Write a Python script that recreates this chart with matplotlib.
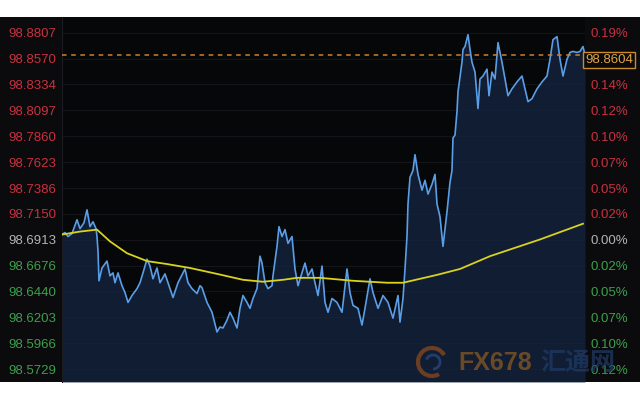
import matplotlib.pyplot as plt
from matplotlib.patches import Arc

# --- data (time offset, price) ---
t = [0, 3, 6, 10, 15, 18, 22, 25, 28, 31, 34, 35, 36, 37, 40, 45, 48, 51, 53, 56,
     60, 63, 66, 70, 75, 78, 81, 85, 88, 91, 95, 98, 103, 108, 111, 116, 123, 126,
     130, 135, 138, 140, 145, 150, 155, 158, 161, 165, 168, 171, 175, 178, 181, 185,
     188, 191, 195, 198, 200, 203, 206, 210, 211, 215, 217, 220, 223, 226, 230, 233,
     236, 240, 243, 246, 250, 253, 256, 260, 263, 266, 270, 275, 280, 285, 288, 291,
     296, 300, 303, 308, 311, 316, 321, 326, 331, 336, 338, 341, 343, 345, 346, 348,
     351, 353, 356, 360, 363, 366, 370, 373, 375, 378, 381, 385, 388, 390, 391, 393,
     395, 396, 400, 401, 403, 406, 408, 410, 413, 416, 418, 421, 425, 427, 430, 433,
     436, 440, 443, 446, 450, 455, 460, 463, 466, 470, 475, 480, 485, 488, 491, 495,
     498, 501, 505, 508, 511, 515, 518, 521, 523]
price = [98.6961, 98.6979, 98.6943, 98.6970, 98.7096, 98.7015, 98.7069, 98.7187,
         98.7033, 98.7078, 98.7015, 98.6943, 98.6808, 98.6538, 98.6655, 98.6718,
         98.6583, 98.6610, 98.6520, 98.6610, 98.6493, 98.6430, 98.6340, 98.6403,
         98.6466, 98.6520, 98.6610, 98.6736, 98.6673, 98.6556, 98.6655, 98.6520,
         98.6601, 98.6466, 98.6385, 98.6520, 98.6646, 98.6520, 98.6466, 98.6421,
         98.6493, 98.6475, 98.6340, 98.6250, 98.6070, 98.6115, 98.6106, 98.6178,
         98.6250, 98.6196, 98.6106, 98.6286, 98.6403, 98.6340, 98.6286, 98.6376,
         98.6466, 98.6763, 98.6700, 98.6520, 98.6466, 98.6493, 98.6583, 98.6853,
         98.7033, 98.6943, 98.7006, 98.6880, 98.6943, 98.6646, 98.6493, 98.6610,
         98.6700, 98.6583, 98.6646, 98.6520, 98.6403, 98.6673, 98.6340, 98.6250,
         98.6376, 98.6340, 98.6250, 98.6646, 98.6430, 98.6313, 98.6286, 98.6133,
         98.6286, 98.6556, 98.6430, 98.6286, 98.6403, 98.6340, 98.6196, 98.6403,
         98.6160, 98.6376, 98.6646, 98.6943, 98.7241, 98.7484, 98.7547, 98.7691,
         98.7511, 98.7367, 98.7457, 98.7331, 98.7421, 98.7511, 98.7241, 98.7123,
         98.6853, 98.7169, 98.7439, 98.7547, 98.7844, 98.7871, 98.8087, 98.8267,
         98.8537, 98.8654, 98.8681, 98.8789, 98.8654, 98.8537, 98.8447, 98.8114,
         98.8384, 98.8411, 98.8474, 98.8231, 98.8447, 98.8384, 98.8717, 98.8537,
         98.8384, 98.8231, 98.8294, 98.8357, 98.8411, 98.8294, 98.8177, 98.8204,
         98.8294, 98.8357, 98.8411, 98.8564, 98.8744, 98.8771, 98.8564, 98.8411,
         98.8564, 98.8627, 98.8636, 98.8627, 98.8636, 98.8681, 98.8604]

ma_t = [0, 18, 35, 48, 65, 85, 105, 128, 155, 181, 201, 221, 235, 258, 291, 325,
        341, 358, 375, 398, 428, 478, 521]
ma = [98.6961, 98.6988, 98.7006, 98.6898, 98.6790, 98.6718, 98.6691, 98.6655,
      98.6601, 98.6547, 98.6529, 98.6547, 98.6565, 98.6565, 98.6538, 98.6520,
      98.6520, 98.6556, 98.6592, 98.6646, 98.6763, 98.6916, 98.7060]

base = 98.6913
last = 98.8604
ticks = [98.8807, 98.8570, 98.8334, 98.8097, 98.7860, 98.7623, 98.7386,
         98.7150, 98.6913, 98.6676, 98.6440, 98.6203, 98.5966, 98.5729]
pct_labels = ['0.19%', '0.17%', '0.14%', '0.12%', '0.10%', '0.07%', '0.05%',
              '0.02%', '0.00%', '0.02%', '0.05%', '0.07%', '0.10%', '0.12%']

RED = '#c9303f'
GREEN = '#3c9f4c'
GREY = '#b4b4b4'


def tick_color(v):
    if v > base + 1e-6:
        return RED
    if v < base - 1e-6:
        return GREEN
    return GREY


fig = plt.figure(figsize=(6.4, 4.0), dpi=100, facecolor='white')

# black band behind everything
band = fig.add_axes([0, 18 / 400, 1, 365 / 400])
band.set_facecolor('#0b0b0d')
band.set_xticks([])
band.set_yticks([])
for s in band.spines.values():
    s.set_visible(False)

ax = fig.add_axes([62 / 640, 18 / 400, 523 / 640, 365 / 400])
ax.set_facecolor('#060709')
ylo, yhi = 98.5612, 98.8951
ax.set_ylim(ylo, yhi)
ax.set_xlim(0, 523)

for v in ticks:
    ax.axhline(v, color='#141519', lw=0.8, zorder=0)

ax.fill_between(t, price, ylo, color='#15233d', alpha=0.8, lw=0, zorder=1)
ax.plot(t, price, color='#5b9ee8', lw=1.2, zorder=3)
ax.plot(ma_t, ma, color='#d9d21e', lw=1.3, zorder=4)
ax.axhline(last, color='#cf8030', lw=1.1, ls=(0, (3, 3)), zorder=5)

ax.set_yticks(ticks)
ax.set_yticklabels([f'{v:.4f}' for v in ticks])
ax.tick_params(axis='y', length=0, pad=4, labelsize=9.5)
ax.set_xticks([])
for lab, v in zip(ax.get_yticklabels(), ticks):
    lab.set_family('Liberation Sans')
    lab.set_color(tick_color(v))

ax2 = ax.twinx()
ax2.set_ylim(ylo, yhi)
ax2.set_yticks(ticks)
ax2.set_yticklabels(pct_labels)
ax2.tick_params(axis='y', length=0, pad=4, labelsize=9.5)
for lab, v in zip(ax2.get_yticklabels(), ticks):
    lab.set_family('Liberation Sans')
    lab.set_color(tick_color(v))

for a in (ax, ax2):
    for s in a.spines.values():
        s.set_visible(False)
ax.spines['left'].set_visible(True)
ax.spines['left'].set_color('#1c1d22')

# last price box
ax2.text(1.0, last + 0.0012, '98.8604', transform=ax2.get_yaxis_transform(),
         ha='left', va='top', fontsize=9.5, family='Liberation Sans', color='#e0a444',
         bbox=dict(boxstyle='square,pad=0.15', fc='#0b0b0d', ec='#c98a2c', lw=1.0),
         zorder=10)

# watermark on an overlay axes (figure pixel coordinates)
wm = fig.add_axes([0, 0, 1, 1])
wm.set_xlim(0, 640)
wm.set_ylim(400, 0)
wm.axis('off')
wm.add_patch(Arc((432, 362), 28, 28, theta1=60, theta2=330,
                 color='#8a4a20', lw=3, alpha=0.75))
wm.add_patch(Arc((433, 362), 14, 14, theta1=200, theta2=90,
                 color='#2a4a80', lw=2, alpha=0.75))
wm.text(458, 363, 'FX678', ha='left', va='center', fontsize=18, fontweight='bold',
        color='#7a5226', alpha=0.85, family='Liberation Sans')
wm.text(540, 363, '汇通网', ha='left', va='center', fontsize=18, fontweight='bold',
        color='#1f3c6c', alpha=0.7, family=['Noto Sans CJK SC', 'DejaVu Sans'])

fig.savefig('out.png', dpi=100, facecolor='white')
